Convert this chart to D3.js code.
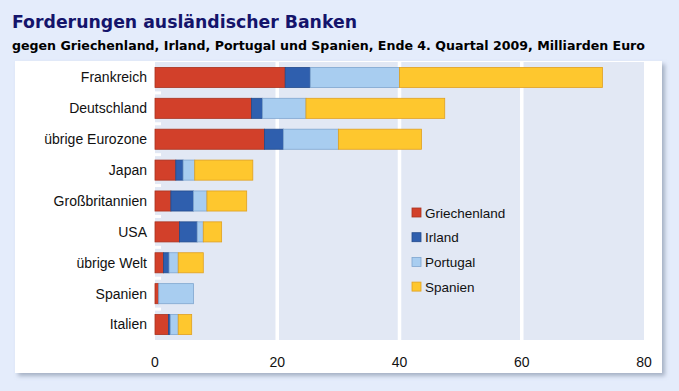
<!DOCTYPE html>
<html>
<head>
<meta charset="utf-8">
<script src="https://cdn.jsdelivr.net/npm/d3@7"></script>
<style>
  body { margin: 0; background: #e4ecfb; }
  svg { display: block; }
</style>
</head>
<body>
<div id="chart"></div>
<script>
var categories = ["Frankreich", "Deutschland", "übrige Eurozone", "Japan", "Großbritannien",
                  "USA", "übrige Welt", "Spanien", "Italien"];
var seriesNames = ["Griechenland", "Irland", "Portugal", "Spanien"];
var griechenland = [21.3, 15.8, 17.9, 3.4, 2.6, 4.0, 1.4, 0.6, 2.2];
var irland       = [4.1, 1.8, 3.1, 1.2, 3.7, 2.9, 0.9, 0.0, 0.3];
var portugal     = [14.6, 7.1, 9.0, 1.9, 2.2, 1.0, 1.5, 5.7, 1.3];
var spanien      = [33.2, 22.7, 13.6, 9.5, 6.5, 3.0, 4.1, 0.0, 2.2];
var xTicks = [0, 20, 40, 60, 80];

var colors = ["#d2402a", "#2f5fae", "#a8cdf0", "#fec72e"];
var strokes = ["#a8321f", "#234b8c", "#7fa6cf", "#e0a020"];

var W = 679, H = 391;
var svg = d3.select("#chart").append("svg")
    .attr("width", W)
    .attr("height", H);

svg.append("rect").attr("width", W).attr("height", H).attr("fill", "#e4ecfb");

// title + subtitle, fitted to the original widths
svg.append("text")
    .attr("x", 12).attr("y", 28)
    .attr("font-family", "DejaVu Sans")
    .attr("font-weight", "bold")
    .attr("font-size", 17.5)
    .attr("fill", "#14146b")
    .attr("textLength", 345)
    .attr("lengthAdjust", "spacingAndGlyphs")
    .text("Forderungen ausländischer Banken");
svg.append("text")
    .attr("x", 12).attr("y", 50)
    .attr("font-family", "DejaVu Sans")
    .attr("font-weight", "bold")
    .attr("font-size", 12)
    .attr("fill", "#000")
    .attr("textLength", 633)
    .attr("lengthAdjust", "spacingAndGlyphs")
    .text("gegen Griechenland, Irland, Portugal und Spanien, Ende 4. Quartal 2009, Milliarden Euro");

// white panel with shadow
var defs = svg.append("defs");
var f = defs.append("filter").attr("id", "shadow")
    .attr("x", "-5%").attr("y", "-5%").attr("width", "110%").attr("height", "115%");
f.append("feDropShadow").attr("dx", 3).attr("dy", 3).attr("stdDeviation", 2)
    .attr("flood-color", "#7d8aa0").attr("flood-opacity", 0.6);

svg.append("rect")
    .attr("x", 15).attr("y", 61)
    .attr("width", 647).attr("height", 312)
    .attr("fill", "#fff")
    .attr("filter", "url(#shadow)");

var margin = {left: 155, right: 644, top: 62, bottom: 340};

var x = d3.scaleLinear().domain([0, 80]).range([margin.left, margin.right]);
var y = d3.scaleBand().domain(categories).range([margin.top, margin.bottom]).paddingInner(0.35).paddingOuter(0.175);

// plot area
svg.append("rect")
    .attr("x", margin.left).attr("y", margin.top)
    .attr("width", margin.right - margin.left)
    .attr("height", margin.bottom - margin.top)
    .attr("fill", "#e2e8f4");

// gridlines
svg.append("g").selectAll("line")
    .data(xTicks.slice(1, -1))
    .join("line")
    .attr("x1", function (d) { return x(d); })
    .attr("x2", function (d) { return x(d); })
    .attr("y1", margin.top).attr("y2", margin.bottom)
    .attr("stroke", "#fff").attr("stroke-width", 3.5);

// small white ticks on the category axis
var step = y.step();
svg.append("g").selectAll("line")
    .data(categories.slice(1))
    .join("line")
    .attr("x1", margin.left).attr("x2", margin.left + 6)
    .attr("y1", function (d) { return y(d) - (step - y.bandwidth()) / 2; })
    .attr("y2", function (d) { return y(d) - (step - y.bandwidth()) / 2; })
    .attr("stroke", "#fff").attr("stroke-width", 3);

// stacked bars
var rows = categories.map(function (c, i) {
    return {cat: c, Griechenland: griechenland[i], Irland: irland[i], Portugal: portugal[i], Spanien: spanien[i]};
});
var stack = d3.stack().keys(seriesNames)(rows);

svg.append("g").selectAll("g")
    .data(stack)
    .join("g")
    .attr("fill", function (d, i) { return colors[i]; })
    .attr("stroke", function (d, i) { return strokes[i]; })
    .attr("stroke-width", 0.8)
    .selectAll("rect")
    .data(function (d) { return d.filter(function (s) { return s[1] - s[0] > 0; }); })
    .join("rect")
    .attr("x", function (d) { return x(d[0]); })
    .attr("y", function (d) { return y(d.data.cat); })
    .attr("width", function (d) { return x(d[1]) - x(d[0]); })
    .attr("height", y.bandwidth());

// category labels
svg.append("g").selectAll("text")
    .data(categories)
    .join("text")
    .attr("x", margin.left - 8)
    .attr("y", function (d) { return y(d) + y.bandwidth() / 2; })
    .attr("dy", "0.35em")
    .attr("text-anchor", "end")
    .attr("font-family", "Liberation Sans, Arial")
    .attr("font-size", 14)
    .attr("fill", "#111")
    .text(function (d) { return d; });

// x axis labels
svg.append("g").selectAll("text")
    .data(xTicks)
    .join("text")
    .attr("x", function (d) { return x(d); })
    .attr("y", 367)
    .attr("text-anchor", "middle")
    .attr("font-family", "Liberation Sans, Arial")
    .attr("font-size", 14)
    .attr("fill", "#111")
    .text(function (d) { return d; });

// legend
var legend = svg.append("g").attr("transform", "translate(412,213)")
    .selectAll("g")
    .data(seriesNames)
    .join("g")
    .attr("transform", function (d, i) { return "translate(0," + (i * 24.7) + ")"; });
legend.append("rect")
    .attr("x", 0).attr("y", -5).attr("width", 9).attr("height", 9)
    .attr("fill", function (d, i) { return colors[i]; })
    .attr("stroke", function (d, i) { return strokes[i]; })
    .attr("stroke-width", 0.8);
legend.append("text")
    .attr("x", 13).attr("dy", "0.35em")
    .attr("font-family", "Liberation Sans, Arial")
    .attr("font-size", 13.5)
    .attr("fill", "#111")
    .text(function (d) { return d; });
</script>
</body>
</html>
